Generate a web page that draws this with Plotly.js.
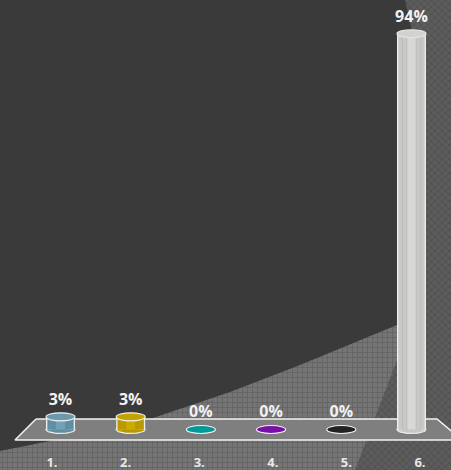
<!DOCTYPE html>
<html><head><meta charset="utf-8">
<script src="https://cdn.plot.ly/plotly-3.0.1.min.js"></script>
<style>html,body{margin:0;padding:0;background:#3a3a3a;overflow:hidden}</style>
</head><body><div id="chart" style="width:451px;height:470px"></div>
<script>
const categories = ['1.','2.','3.','4.','5.','6.'];
const shares = [3,3,0,0,0,94];
const edgeColors = ['#5f8ea2','#b89a00','#009a96','#7a0ea8','#222222','#c8c8c6'];
const midColors = ['#74a2b5','#cdaa00','#009a96','#7a0ea8','#222222','#d8d8d6'];
const seamColors = ['#6a98ab','#bfa000','#009a96','#7a0ea8','#222222','#b9b9b7'];
const capColors = ['#6c9aad','#c4a300','#009a96','#7a0ea8','#222222','#d2d2d0'];
const capLines = ['#f2f2f2','#f2f2f2','#f2f2f2','#f2f2f2','#f2f2f2','#e4e4e2'];

// Backdrop polygons, in page pixels
const lightArea = {x:[0,75,150,230,300,397,451,451,0], y:[451,436,419,392,365,325,300,470,470]};
const darkArea = {x:[355,397,420,418,412,405,451,451], y:[470,360,240,120,30,0,0,470]};
const floorShape = {x:[36,437,462,15,36], y:[419,419,440,440,419]};

const idx = categories.map((_, i) => i);
const same = c => categories.map(() => c);
const barLayers = [
  {w:0.413, colors:same('#efefef')},
  {w:0.375, colors:edgeColors},
  {w:0.265, colors:seamColors},
  {w:0.245, colors:edgeColors},
  {w:0.14, colors:seamColors},
  {w:0.12, colors:midColors}
];
const rx = 0.207, ry = 0.95;
const xRange = [-0.862,5.563], yRange = [-9.62,102.0];
const angles = Array.from({length:49}, (_, k) => k / 48 * 2 * Math.PI);
const traces = [
  {type:'scatter',mode:'lines',x:lightArea.x,y:lightArea.y,fill:'toself',line:{width:0},hoverinfo:'skip',
   fillcolor:'#727272',fillpattern:{shape:'+',size:5,solidity:0.3,bgcolor:'#757575',fgcolor:'#626262'},xaxis:'x',yaxis:'y'},
  {type:'scatter',mode:'lines',x:darkArea.x,y:darkArea.y,fill:'toself',line:{width:0},hoverinfo:'skip',
   fillcolor:'#585858',fillpattern:{shape:'x',size:5,solidity:0.3,bgcolor:'#5c5c5c',fgcolor:'#4e4e4e'},xaxis:'x',yaxis:'y'},
  {type:'scatter',mode:'lines',x:floorShape.x,y:floorShape.y,fill:'toself',fillcolor:'#7f7f7f',
   line:{color:'#f2f2f2',width:1.5},hoverinfo:'skip',xaxis:'x',yaxis:'y'}
];
// Rounded foot of each raised cylinder, on a layer beneath the bars
idx.filter(i => shares[i] > 0).forEach(i => traces.push({type:'scatter',mode:'lines',
  x:angles.map(a => i + rx * Math.cos(a)),y:angles.map(a => ry * Math.sin(a)),fill:'toself',
  fillcolor:edgeColors[i],line:{color:'#efefef',width:1.2},xaxis:'x2',yaxis:'y2',hoverinfo:'skip'}));
barLayers.forEach(l => traces.push({type:'bar',x:idx,y:shares,width:same(l.w),
  marker:{color:l.colors,line:{width:0}},xaxis:'x3',yaxis:'y3',hoverinfo:'skip'}));
traces.push({type:'scatter',mode:'text',x:idx,y:shares.map(v => v + 1.9),text:shares.map(v => v + '%'),
  textposition:'top center',textfont:{family:'Open Sans',size:16,color:'#f2f2f2',weight:700},
  xaxis:'x3',yaxis:'y3',hoverinfo:'skip'});
traces.push({type:'scatter',mode:'markers',x:idx,y:shares,marker:{opacity:0,size:1},xaxis:'x4',yaxis:'y3',hoverinfo:'skip'});

const shapes = idx.map(i => ({type:'circle',xref:'x3',yref:'y3',x0:i-rx,x1:i+rx,y0:shares[i]-ry,y1:shares[i]+ry,
  layer:'above',fillcolor:capColors[i],line:{color:capLines[i],width:1.1}}));

const hidden = {overlaying:'x',visible:false,showgrid:false,zeroline:false};
const layout = {
  width:451,height:470,margin:{l:0,r:0,t:0,b:0},paper_bgcolor:'#3a3a3a',plot_bgcolor:'rgba(0,0,0,0)',
  showlegend:false,barmode:'overlay',shapes:shapes,
  xaxis:{range:[0,451],visible:false,fixedrange:true},
  yaxis:{range:[470,0],visible:false,fixedrange:true},
  xaxis2:{...hidden,range:xRange},
  xaxis3:{...hidden,range:xRange},
  xaxis4:{overlaying:'x',anchor:'free',position:0.036,range:[-0.7065,5.4212],tickmode:'array',tickvals:idx,ticktext:categories,
    showgrid:false,zeroline:false,showline:false,ticks:'',tickfont:{family:'Open Sans',size:13,color:'#e8e8e8',weight:700}},
  yaxis2:{...hidden,overlaying:'y',range:yRange},
  yaxis3:{...hidden,overlaying:'y',range:yRange}
};
Plotly.newPlot('chart',traces,layout,{displayModeBar:false,staticPlot:true});
</script></body></html>
